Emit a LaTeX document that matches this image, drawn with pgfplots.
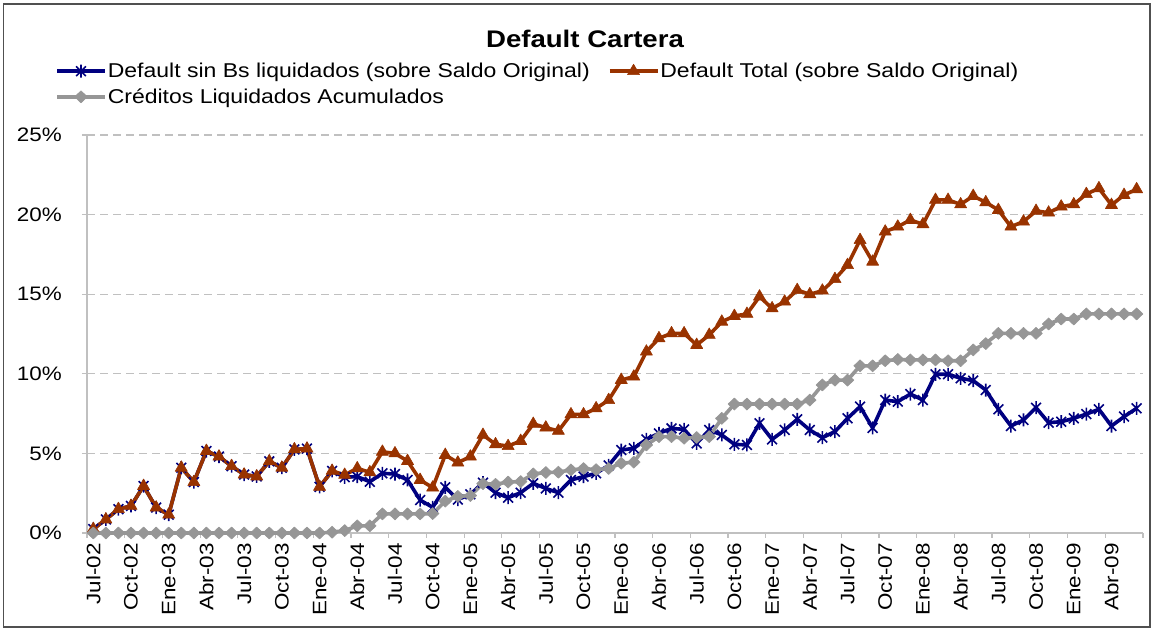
\documentclass[border=0pt]{standalone}
\usepackage{pgfplots}
\pgfplotsset{compat=1.18}
\usepackage{pgfplotstable}
\usepackage{fontspec}
\setmainfont{Liberation Sans}[FakeStretch=1.15]
\definecolor{cblue}{RGB}{0,0,128}
\definecolor{cred}{RGB}{153,51,0}
\definecolor{cgray}{RGB}{150,150,150}
\definecolor{axgray}{RGB}{192,192,192}
\definecolor{bordergray}{RGB}{80,80,80}

\pgfdeclareplotmark{xstar}{%
  \pgfpathmoveto{\pgfqpoint{0pt}{\pgfplotmarksize}}%
  \pgfpathlineto{\pgfqpoint{0pt}{-\pgfplotmarksize}}%
  \pgfpathmoveto{\pgfqpoint{-.75\pgfplotmarksize}{.75\pgfplotmarksize}}%
  \pgfpathlineto{\pgfqpoint{.75\pgfplotmarksize}{-.75\pgfplotmarksize}}%
  \pgfpathmoveto{\pgfqpoint{-.75\pgfplotmarksize}{-.75\pgfplotmarksize}}%
  \pgfpathlineto{\pgfqpoint{.75\pgfplotmarksize}{.75\pgfplotmarksize}}%
  \pgfusepathqstroke}

\pgfplotstableread{
i blue red gray
0 0.25 0.25 0
1 0.85 0.85 0
2 1.5 1.5 0
3 1.7 1.7 0
4 2.95 2.95 0
5 1.6 1.6 0
6 1.15 1.15 0
7 4.1 4.1 0
8 3.2 3.2 0
9 5.15 5.15 0
10 4.8 4.8 0
11 4.2 4.2 0
12 3.67 3.67 0
13 3.55 3.55 0
14 4.5 4.5 0
15 4.1 4.1 0
16 5.25 5.25 0
17 5.3 5.3 0
18 2.9 2.9 0
19 3.9 3.9 0.05
20 3.5 3.65 0.15
21 3.54 4.06 0.45
22 3.22 3.81 0.45
23 3.75 5.1 1.2
24 3.7 5.0 1.2
25 3.33 4.52 1.2
26 2.07 3.33 1.2
27 1.61 2.85 1.22
28 2.87 4.9 2.0
29 2.1 4.42 2.3
30 2.43 4.8 2.35
31 3.16 6.16 3.1
32 2.53 5.57 3.06
33 2.22 5.46 3.2
34 2.53 5.78 3.23
35 3.12 6.85 3.71
36 2.8 6.62 3.8
37 2.53 6.41 3.82
38 3.33 7.45 3.96
39 3.54 7.45 4.05
40 3.75 7.83 3.98
41 4.25 8.35 4.05
42 5.21 9.61 4.38
43 5.32 9.82 4.45
44 5.88 11.39 5.53
45 6.26 12.23 6.05
46 6.57 12.54 6.05
47 6.51 12.54 5.95
48 5.63 11.81 6.0
49 6.47 12.44 6.05
50 6.16 13.27 7.2
51 5.57 13.63 8.1
52 5.53 13.76 8.1
53 6.89 14.85 8.1
54 5.88 14.11 8.1
55 6.47 14.53 8.1
56 7.14 15.26 8.1
57 6.47 14.99 8.35
58 5.99 15.22 9.3
59 6.37 15.95 9.6
60 7.2 16.83 9.6
61 7.94 18.4 10.5
62 6.6 17.04 10.5
63 8.35 18.93 10.82
64 8.25 19.24 10.9
65 8.73 19.66 10.87
66 8.35 19.39 10.87
67 9.97 20.92 10.87
68 9.97 20.92 10.82
69 9.72 20.64 10.82
70 9.57 21.17 11.5
71 8.98 20.77 11.9
72 7.77 20.29 12.54
73 6.72 19.24 12.54
74 7.1 19.56 12.54
75 7.87 20.23 12.54
76 6.93 20.12 13.13
77 6.99 20.5 13.44
78 7.2 20.64 13.44
79 7.47 21.29 13.76
80 7.77 21.65 13.76
81 6.72 20.6 13.76
82 7.31 21.23 13.76
83 7.83 21.59 13.76
}\datatable

\begin{document}
\begin{tikzpicture}
\useasboundingbox (0,0) rectangle (1151pt,628pt);
\draw[bordergray, line width=1.2pt] (3.5pt,1pt) rectangle (1150pt,624pt);
\begin{axis}[
  at={(87pt,95pt)}, anchor=south west,
  scale only axis, width=1056pt, height=398pt,
  xmin=-0.5, xmax=83.5, ymin=0, ymax=25,
  clip=false,
  axis lines=left,
  axis line style={-, draw=axgray, line width=1.5pt},
  tick align=outside,
  major tick length=5pt,
  tick style={draw=axgray, line width=1.2pt},
  xtick={-0.5,2.5,...,83.5},
  xticklabels={},
  extra x ticks={0,3,...,81},
  extra x tick labels={Jul-02,Oct-02,Ene-03,Abr-03,Jul-03,Oct-03,Ene-04,Abr-04,Jul-04,Oct-04,Ene-05,Abr-05,Jul-05,Oct-05,Ene-06,Abr-06,Jul-06,Oct-06,Ene-07,Abr-07,Jul-07,Oct-07,Ene-08,Abr-08,Jul-08,Oct-08,Ene-09,Abr-09},
  extra x tick style={major tick length=0pt, grid=none},
  xticklabel style={rotate=90, anchor=east, inner sep=0pt, font=\fontsize{19.5}{20}\selectfont},
  xticklabel shift=10pt,
  ytick={0,5,...,25},
  yticklabels={0\%,5\%,10\%,15\%,20\%,25\%},
  yticklabel style={anchor=east, inner sep=0pt, font=\fontsize{19.5}{20}\selectfont},
  yticklabel shift=20pt,
  ymajorgrids,
  major grid style={dash pattern=on 8pt off 5pt, draw=axgray, line width=1.2pt},
  legend style={at={(-0.0303,1.1834)}, anchor=north west, draw=none, fill=none, inner sep=0pt,
    font=\fontsize{20}{24}\selectfont, row sep=7.5pt, nodes={inner sep=1pt},
    /tikz/every even column/.append style={column sep=17pt}},
  legend columns=2,
  legend cell align=left,
  legend image code/.code={\draw[mark repeat=2,mark phase=2,#1] plot coordinates {(0pt,0pt) (24pt,0pt) (48pt,0pt)};},
]
\addplot[cblue, line width=3.6pt, line join=round, mark=xstar, mark size=6.5pt, mark options={line width=1.6pt, solid}] table[x=i,y=blue]{\datatable};
\addlegendentry{Default sin Bs liquidados (sobre Saldo Original)}
\addplot[cred, line width=3.6pt, line join=round, mark=triangle*, mark size=7pt, mark options={line width=0.6pt, solid}] table[x=i,y=red]{\datatable};
\addlegendentry{Default Total (sobre Saldo Original)}
\addplot[cgray, line width=3.6pt, line join=round, mark=diamond*, mark size=6pt, mark options={xscale=1.4, line width=0.6pt, solid}] table[x=i,y=gray]{\datatable};
\addlegendentry{Créditos Liquidados Acumulados}
\end{axis}
\node[font=\bfseries\fontsize{24}{28}\selectfont] at (585pt,589.5pt) {Default Cartera};
\end{tikzpicture}
\end{document}
